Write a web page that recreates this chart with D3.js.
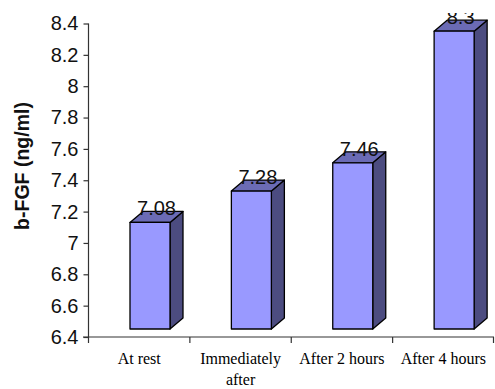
<!DOCTYPE html>
<html>
<head>
<meta charset="utf-8">
<script src="https://cdn.jsdelivr.net/npm/d3@7"></script>
<style>
  html, body { margin: 0; padding: 0; background: #fff; }
  svg { display: block; }
</style>
</head>
<body>
<svg id="chart" width="495" height="389"></svg>
<script>
// b-FGF concentration at each sampling time
const categories = [["At rest"], ["Immediately", "after"], ["After 2 hours"], ["After 4 hours"]];
const values = [7.08, 7.28, 7.46, 8.3];
const yTicks = [6.4, 6.6, 6.8, 7, 7.2, 7.4, 7.6, 7.8, 8, 8.2, 8.4];

const svg = d3.select("#chart");
const W = 495, H = 389;

const x = d3.scaleBand()
  .domain(d3.range(categories.length))
  .range([88.5, 494])
  .padding(0);

const y = d3.scaleLinear().domain([6.4, 8.4]).range([337, 23.5]);

// 3D column geometry
const depthX = 13, depthY = -11, floorLift = 8;
const frontOffset = 41.5, frontWidth = 40;
const colFront = "#9999ff", colTop = "#6b6bb5", colSide = "#4c4c80";

svg.append("defs").append("clipPath").attr("id", "plotClip")
  .append("rect").attr("x", 0).attr("y", 13).attr("width", W).attr("height", H);

const bars = svg.append("g").attr("class", "bars");
values.forEach((v, i) => {
  const x0 = x(i) + frontOffset, x1 = x0 + frontWidth;
  const yt = y(v) - floorLift, yb = y(6.4) - floorLift;
  const g = bars.append("g");
  const style = s => s.attr("stroke", "#000").attr("stroke-width", 1.3).attr("stroke-linejoin", "round");
  // side face
  style(g.append("path")
    .attr("d", `M${x1},${yt} L${x1 + depthX},${yt + depthY} L${x1 + depthX},${yb + depthY} L${x1},${yb} Z`)
    .attr("fill", colSide));
  // top face
  style(g.append("path")
    .attr("d", `M${x0},${yt} L${x0 + depthX},${yt + depthY} L${x1 + depthX},${yt + depthY} L${x1},${yt} Z`)
    .attr("fill", colTop));
  // front face
  style(g.append("rect")
    .attr("x", x0).attr("y", yt).attr("width", frontWidth).attr("height", yb - yt)
    .attr("fill", colFront));
});

// value labels above each column
svg.append("g").attr("clip-path", "url(#plotClip)")
  .selectAll("text").data(values).join("text")
  .attr("x", (d, i) => x(i) + frontOffset + (frontWidth + depthX) / 2)
  .attr("y", d => y(d) - floorLift - 7)
  .attr("text-anchor", "middle")
  .attr("font-family", "Arial, 'Liberation Sans', sans-serif")
  .attr("font-size", 20)
  .attr("fill", "#111")
  .text(d => d);

// y axis
const yAxis = svg.append("g").attr("transform", "translate(88.5,0)")
  .call(d3.axisLeft(y).tickValues(yTicks).tickFormat(d3.format("")).tickSize(5).tickPadding(5));
yAxis.select(".domain").attr("d", `M0,${y(8.4)}V343`).attr("stroke", "#333").attr("stroke-width", 1.2);
yAxis.selectAll(".tick line").attr("stroke", "#333").attr("stroke-width", 1.2);
yAxis.selectAll(".tick text")
  .attr("font-family", "Arial, 'Liberation Sans', sans-serif")
  .attr("font-size", 20)
  .attr("fill", "#111");

// x axis with ticks at the category boundaries
const xAxis = svg.append("g").attr("transform", `translate(0,${y(6.4)})`);
xAxis.append("line").attr("x1", 83).attr("x2", 494).attr("stroke", "#333").attr("stroke-width", 1.2);
xAxis.selectAll("line.tk").data(d3.range(1, categories.length + 1)).join("line")
  .attr("class", "tk")
  .attr("x1", i => i < categories.length ? x(i) : x.range()[1] - 0.5)
  .attr("x2", i => i < categories.length ? x(i) : x.range()[1] - 0.5)
  .attr("y1", 0).attr("y2", 6)
  .attr("stroke", "#333").attr("stroke-width", 1.2);

const labels = svg.append("g")
  .attr("font-family", "'Times New Roman', 'Liberation Serif', serif")
  .attr("font-size", 16)
  .attr("fill", "#000")
  .attr("text-anchor", "middle");
categories.forEach((lines, i) => {
  const t = labels.append("text").attr("x", x(i) + x.bandwidth() / 2).attr("y", 364);
  lines.forEach((ln, k) => t.append("tspan")
    .attr("x", x(i) + x.bandwidth() / 2)
    .attr("dy", k === 0 ? 0 : 21)
    .text(ln));
});

// y axis title
svg.append("text")
  .attr("transform", "translate(29,166) rotate(-90)")
  .attr("text-anchor", "middle")
  .attr("font-family", "Arial, 'Liberation Sans', sans-serif")
  .attr("font-weight", "bold")
  .attr("font-size", 19.5)
  .attr("fill", "#111")
  .text("b-FGF (ng/ml)");
</script>
</body>
</html>
